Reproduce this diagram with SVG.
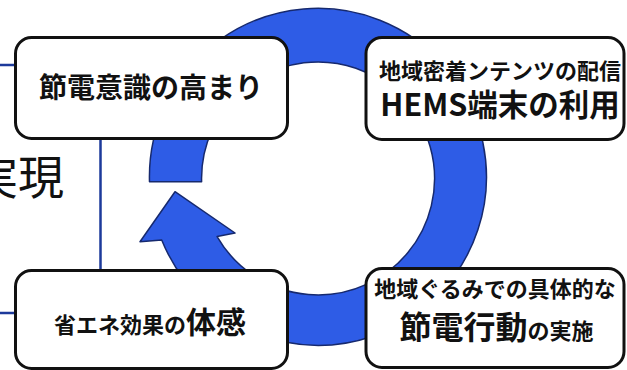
<svg xmlns="http://www.w3.org/2000/svg" width="627" height="370" viewBox="0 0 627 370">
<style>
.box{fill:#fff;stroke:#111;stroke-width:3}
.ln{stroke:#1d3a9b;stroke-width:2.5;fill:none}
.cyc{fill:#2e5ce6;stroke:#16296e;stroke-width:1.5;stroke-linejoin:round}
.t{font-family:"Noto Sans CJK JP","Noto Sans",sans-serif;font-weight:700;fill:#111;text-anchor:middle}
.big{font-family:"Noto Sans CJK JP","Noto Sans",sans-serif;font-weight:400;fill:#111}
</style>
<rect width="627" height="370" fill="#fff"/>
<g id="connectors">
<path class="ln" d="M0 65H16 M0 313H16 M100.5 138V271"/>
<path id="cycle-arrow" class="cyc" d="M149.5 181.7 A168.5 168.5 0 1 1 161.7 240 L140 241.7 L175 191.7 L235 233 L217.1 236.6 A116.5 116.5 0 1 0 201.6 181.7 Z"/>
</g>
<text class="big" x="64" y="194" font-size="46" text-anchor="end">実現</text>
<g id="node-awareness">
<rect class="box" x="15.5" y="37.5" width="272" height="101" rx="16"/>
<text class="t" x="151" y="98" font-size="28">節電意識の高まり</text>
</g>
<g id="node-hems">
<rect class="box" x="366" y="37.5" width="258" height="102" rx="16"/>
<text class="t" x="500" y="79" font-size="22">地域密着ンテンツの配信</text>
<text class="t" x="500" y="116" font-size="30.5">HEMS端末の利用</text>
</g>
<g id="node-feel">
<rect class="box" x="15.5" y="270.5" width="272" height="98" rx="16"/>
<text class="t" x="150" y="333" font-size="22">省エネ効果の<tspan font-size="30">体感</tspan></text>
</g>
<g id="node-action">
<rect class="box" x="366" y="268.5" width="258" height="99" rx="16"/>
<text class="t" x="495" y="297" font-size="22">地域ぐるみでの具体的な</text>
<text class="t" x="496.5" y="339" font-size="22"><tspan font-size="32">節電行動</tspan>の実施</text>
</g>
</svg>
